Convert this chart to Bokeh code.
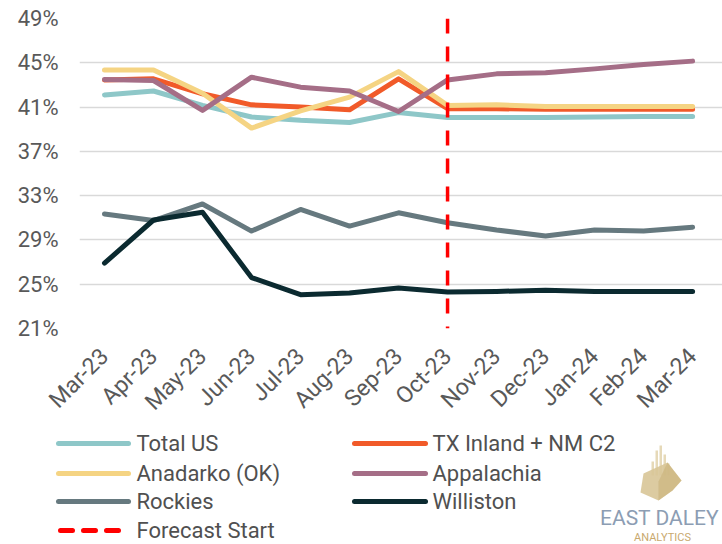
import math
from bokeh.plotting import figure
from bokeh.layouts import column
from bokeh.models import Range1d, FixedTicker, Span
from bokeh.core.properties import value
from bokeh.embed import file_html
from bokeh.resources import INLINE

# ---------------- data ----------------
months = ["Mar-23", "Apr-23", "May-23", "Jun-23", "Jul-23", "Aug-23", "Sep-23",
          "Oct-23", "Nov-23", "Dec-23", "Jan-24", "Feb-24", "Mar-24"]
forecast_start = "Oct-23"

total_us   = [42.10, 42.45, 41.15, 40.10, 39.80, 39.60, 40.50, 40.05, 40.05, 40.05, 40.10, 40.15, 40.15]
tx_inland  = [43.45, 43.55, 42.20, 41.20, 41.00, 40.75, 43.55, 40.85, 40.85, 40.80, 40.80, 40.80, 40.80]
anadarko   = [44.35, 44.35, 42.25, 39.10, 40.65, 41.90, 44.20, 41.15, 41.20, 41.05, 41.05, 41.05, 41.05]
appalachia = [43.50, 43.40, 40.70, 43.70, 42.80, 42.45, 40.60, 43.45, 44.00, 44.10, 44.45, 44.85, 45.15]
rockies    = [31.35, 30.75, 32.25, 29.80, 31.75, 30.25, 31.45, 30.55, 29.90, 29.35, 29.90, 29.80, 30.15]
williston  = [26.90, 30.80, 31.50, 25.60, 24.05, 24.20, 24.65, 24.30, 24.35, 24.45, 24.35, 24.35, 24.35]

series_names = ["Total US", "TX Inland + NM C2", "Anadarko (OK)", "Appalachia", "Rockies", "Williston"]
series_values = [total_us, tx_inland, anadarko, appalachia, rockies, williston]
series_colors = ["#8EC7C8", "#F15A29", "#F5D483", "#A56E87", "#66797F", "#0B2A30"]
forecast_label = "Forecast Start"

y_ticks = [21, 25, 29, 33, 37, 41, 45, 49]
y_tick_labels = ["21%", "25%", "29%", "33%", "37%", "41%", "45%", "49%"]

FONT = "Roboto"
TXT = "#595959"

# ---------------- main chart ----------------
H1 = 429
xs = list(range(len(months)))
p = figure(width=722, height=H1, x_range=Range1d(-0.51, 12.61), y_range=Range1d(21, 49),
           output_backend="svg", toolbar_location=None,
           min_border_left=79, min_border_right=0, min_border_top=18, min_border_bottom=H1 - 328)
p.frame_align = False
p.outline_line_color = None
p.background_fill_color = "white"
p.border_fill_color = "white"

p.xgrid.grid_line_color = None
p.ygrid.grid_line_color = "#D9D9D9"
p.ygrid.grid_line_width = 1.5

p.yaxis.ticker = FixedTicker(ticks=y_ticks)
p.yaxis.major_label_overrides = {t: l for t, l in zip(y_ticks, y_tick_labels)}
p.xaxis.ticker = FixedTicker(ticks=xs)
p.xaxis.major_label_overrides = {i: m for i, m in zip(xs, months)}
p.xaxis.major_label_orientation = math.pi / 4

for ax in (p.xaxis, p.yaxis):
    ax.axis_line_color = None
    ax.major_tick_line_color = None
    ax.minor_tick_line_color = None
    ax.major_label_text_font = FONT
    ax.major_label_text_color = TXT
p.yaxis.major_label_text_font_size = "22px"
p.xaxis.major_label_text_font_size = "23px"
p.yaxis.major_label_standoff = 15
p.xaxis.major_label_standoff = 18

for vals, col in zip(series_values, series_colors):
    p.line(xs, vals, line_color=col, line_width=5, line_cap="round", line_join="round")

p.add_layout(Span(location=months.index(forecast_start), dimension="height",
                  line_color="#FF0000", line_width=3.5, line_dash="15 13"))

# ---------------- legend + logo ----------------
H2 = 544 - H1
off = H1  # page y offset of the legend canvas
lg = figure(width=722, height=H2, x_range=Range1d(0, 722), y_range=Range1d(H2, 0),
            output_backend="svg", toolbar_location=None,
            x_axis_location=None, y_axis_location=None,
            min_border_left=0, min_border_right=0, min_border_top=0, min_border_bottom=0)
lg.frame_align = False
lg.grid.visible = False
lg.outline_line_color = None

rows = [443 - off, 473 - off, 501 - off, 530 - off]
cols = [(58, 128, 136), (354, 425, 432)]
for k, (name, col) in enumerate(zip(series_names, series_colors)):
    r = rows[k // 2]
    x0, x1, xt = cols[k % 2]
    lg.line([x0, x1], [r, r], line_color=col, line_width=5, line_cap="round")
    lg.text([xt], [r], text=[name], text_font=value(FONT), text_font_size="22px",
            text_color="#505050", text_baseline="middle", text_align="left")
r = rows[3]
lg.line([60, 126], [r, r], line_color="#FF0000", line_width=5, line_cap="round", line_dash="12 11")
lg.text([136], [r], text=[forecast_label], text_font=value(FONT), text_font_size="22px",
        text_color="#505050", text_baseline="middle", text_align="left")

# logo (decorative)
lg.quad(left=[651, 655, 659, 663, 667], right=[653.5, 657.5, 661.5, 665.5, 669],
        top=[t - off for t in (461, 450, 445, 454, 463)], bottom=[475 - off] * 5,
        fill_color="#E6D9B8", line_color=None)
lg.patch([643, 667, 681, 672, 658, 640], [v - off for v in (473, 462, 480, 490, 500, 492)],
         fill_color="#D8C597", line_color=None, alpha=0.9)
lg.patch([658, 667, 681, 672, 658], [v - off for v in (481, 462, 480, 490, 500)],
         fill_color="#C9B27A", line_color=None, alpha=0.6)
lg.text([659], [517 - off], text=["EAST DALEY"], text_font=value(FONT), text_font_size="21px",
        text_color="#8C9DB3", text_baseline="middle", text_align="center")
lg.text([662], [537 - off], text=["ANALYTICS"], text_font=value(FONT), text_font_size="11px",
        text_color="#C9A96E", text_baseline="middle", text_align="center")

layout = column(p, lg, spacing=0)
open("out.html", "w").write(file_html(layout, INLINE))
